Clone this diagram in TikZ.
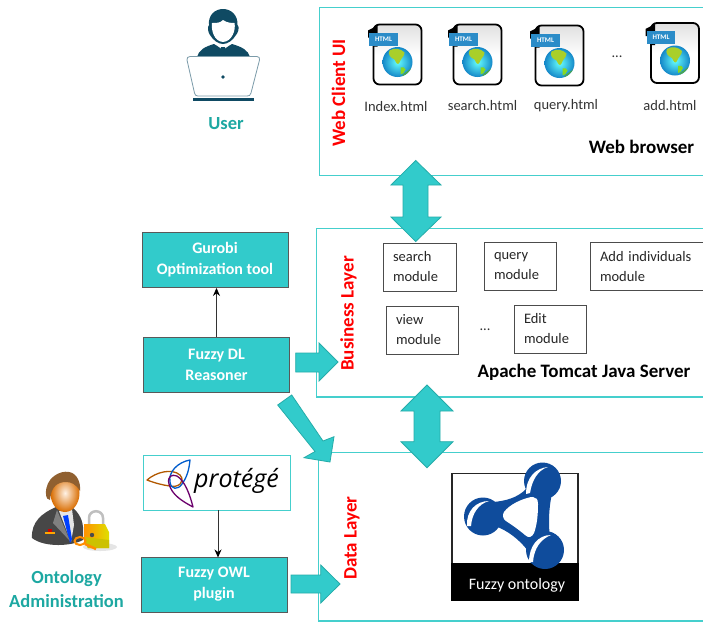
\documentclass[tikz,border=0pt]{standalone}
\usepackage{fontspec}
\setmainfont{Carlito}
\newfontfamily\protfont{Open Sans}
\usetikzlibrary{arrows.meta}
\definecolor{tealfill}{HTML}{32CBCB}
\definecolor{tealedge}{HTML}{25ACA9}
\definecolor{panelline}{HTML}{45CFCD}
\definecolor{labelteal}{HTML}{1DA8A2}
\definecolor{navy}{HTML}{0F4A63}
\definecolor{ontoblue}{HTML}{0F4C9C}
\definecolor{tabblue}{HTML}{2B8CC8}
\definecolor{globeblue}{HTML}{1487C8}
\definecolor{landgreen}{HTML}{A9CF2A}
\tikzset{
  x=1pt,y=-1pt,
  panel/.style={draw=panelline,line width=1.6pt,fill=white},
  tealbox/.style={draw=black!65,line width=0.9pt,fill=tealfill,text=white,font=\fontsize{16}{21}\selectfont\bfseries,align=center,minimum width=146pt,minimum height=55pt,inner sep=0pt},
  modbox/.style={draw=black!70,line width=0.7pt,fill=white,align=left,font=\fontsize{14.5}{20}\selectfont,text=black!85,minimum height=48pt,inner sep=0pt},
  blockarrow/.style={draw=tealedge,line width=0.8pt,fill=tealfill,line join=miter},
  thinarrow/.style={draw=black!80,line width=0.8pt,-{Stealth[length=8pt,width=7pt,black]}},
  filelabel/.style={font=\fontsize{14.5}{16}\selectfont,text=black!80,inner sep=0pt},
  layerlabel/.style={rotate=90,text=red,font=\fontsize{19}{20}\selectfont\bfseries,inner sep=0pt},
  actorlabel/.style={text=labelteal,font=\fontsize{18.5}{24}\selectfont\bfseries,align=center,inner sep=0pt},
  heading/.style={text=black,font=\fontsize{19}{20}\selectfont\bfseries,inner sep=0pt},
  htmldoc/.pic={
    \draw[black,line width=1.8pt,rounded corners=6pt,top color=black!12,bottom color=white,middle color=white]
      (-24,-30) rectangle (24,30);
    \fill[black] (-29.5,-24) -- (-20,-29) -- (-20,-8) -- (-24,-8) -- (-24,-17) -- (-29.5,-17) -- cycle;
    \fill[tabblue] (-28.5,-22) rectangle (0,-9);
    \node[text=white,font=\fontsize{7}{7}\selectfont\bfseries,inner sep=0pt] at (-14,-15.5) {HTML};
    \shade[inner color=cyan!60!white,outer color=globeblue] (0,7.5) circle (15);
    \fill[landgreen] (-8,-4) .. controls (-3,-7) and (3,-6) .. (7,-2) .. controls (7,2) and (3,4) .. (2,8) .. controls (0,11) and (-1,9) .. (-3,5) .. controls (-7,3) and (-10,0) .. (-8,-4) -- cycle;
    \fill[landgreen!80!green] (3,13) .. controls (5,12) and (8,13) .. (8,15) .. controls (7,18) and (5,20) .. (3,20) -- cycle;
    \fill[green!50!black!70] (5,20) .. controls (8,18) and (11,16) .. (13.5,14) .. controls (12,17) and (9,20) .. (5,21.5) -- cycle;
  },
}
\begin{document}
\begin{tikzpicture}
\useasboundingbox (0,0) rectangle (703,622);
\fill[white] (0,0) rectangle (703,622);

% panels
\draw[panel] (704,7.5) -- (319.5,7.5) -- (319.5,175.5) -- (704,175.5);
\draw[panel] (704,228.5) -- (316.5,228.5) -- (316.5,397) -- (704,397);
\draw[panel] (704,452.5) -- (318.5,452.5) -- (318.5,621) -- (704,621);

% user icon
\fill[navy] (197,57) .. controls (199,50) and (204,47) .. (214,44) -- (219,47) -- (223,50) -- (227,47) -- (232,44) .. controls (242,47) and (248,50) .. (250,57) -- cycle;
\fill[white] (218,46) -- (223,50) -- (228,46) -- (226,44) -- (220,44) -- cycle;
\fill[navy] (221,47) -- (225,47) -- (226,54) -- (223,57) -- (220,54) -- cycle;
\fill[navy] (223,9) .. controls (231,9) and (238,15) .. (237.5,25) .. controls (240,27) and (238,33) .. (236,35) .. controls (233,40) and (228,44) .. (223,44) .. controls (218,44) and (213,40) .. (210,35) .. controls (208,32) and (207,27) .. (209,25) .. controls (208,15) and (215,9) .. (223,9) -- cycle;
\fill[white] (223,20) .. controls (227,23) and (232,23) .. (234.5,23) .. controls (236,30) and (232,41.5) .. (223,42) .. controls (214,41.5) and (211,30) .. (212,23) .. controls (217,23) and (220,23) .. (223,20) -- cycle;
\draw[draw=navy!55,fill=white,line width=0.8pt,line join=round] (190,56.5) -- (257,56.5) .. controls (259,56.5) and (260,58) .. (259.5,60) -- (251,93) .. controls (250.5,95.5) and (249,96) .. (247,96) -- (198,96) .. controls (196,96) and (195,95) .. (194.5,93) -- (187,60) .. controls (186.5,58) and (188,56.5) .. (190,56.5) -- cycle;
\fill[navy] (192.5,97.5) rectangle (254,100.5);
\fill[navy] (223,77) circle (1.9);
\node[actorlabel] (user) at (226,124) {User};
\node[actorlabel] (admin) at (66.5,589) {Ontology\\Administration};

% html documents
\pic at (397.5,54.5) {htmldoc};
\pic at (477.5,54.5) {htmldoc};
\pic at (559.5,55.5) {htmldoc};
\pic at (675,53) {htmldoc};
\node[filelabel] (f1) at (396,107) {Index.html};
\node[filelabel] (f2) at (482.5,106) {search.html};
\node[filelabel] (f3) at (566,105.5) {query.html};
\node[filelabel] (f4) at (670,106) {add.html};
\node[filelabel] (fd) at (617,57) {...};
\node[heading] (wb) at (641.5,147) {Web browser};
\node[layerlabel] (l1) at (338.5,93) {Web Client UI};
\node[layerlabel] (l2) at (348.5,313.5) {Business Layer};
\node[layerlabel] (l3) at (352,538) {Data Layer};

% modules
\node[modbox,minimum width=73pt,text width=53pt] (m1) at (419.5,267) {search\\module};
\node[modbox,minimum width=72pt,text width=52pt] (m2) at (520,266.5) {query\\module};
\node[modbox,minimum width=114pt,text width=94pt] (m3) at (647,266.5) {Add individuals\\module};
\node[modbox,minimum width=72pt,text width=52pt] (m4) at (422,330) {view\\module};
\node[modbox,minimum width=72pt,text width=52pt] (m5) at (550,329) {Edit\\module};
\node[filelabel] (md) at (485,330) {...};
\node[heading] (tom) at (584,372.5) {Apache Tomcat Java Server};

% left boxes
\node[tealbox] (gurobi) at (215,260) {Gurobi\\Optimization tool};
\node[tealbox] (reasoner) at (216.5,365) {Fuzzy DL\\Reasoner};
\node[draw=panelline,line width=0.9pt,fill=white,minimum width=147pt,minimum height=55pt,inner sep=0pt] (protege) at (216.5,482.5) {};
\node[tealbox] (plugin) at (214,584.5) {Fuzzy OWL\\plugin};
\draw[thinarrow] (reasoner.north) -- (reasoner.north |- gurobi.south);
\draw[thinarrow] (protege.south -| plugin.north) ++(4,0) -- ++(0,47);

% protege logo
\node[inner sep=0pt,font=\protfont\itshape\fontsize{25}{26}\selectfont] (ptext) at (236.5,481) {protégé};
\draw[draw=orange!70!black,line width=1.3pt,line join=round] (147,480) .. controls (156,472) and (172,468) .. (180,475) .. controls (186,482) and (178,488) .. (170,486) .. controls (162,485) and (155,483) .. (147,480) -- cycle;
\draw[draw=blue!55!cyan!80!black,line width=1.3pt,line join=round] (190,460) .. controls (178,462) and (168,472) .. (170,482) .. controls (171,490) and (178,490) .. (182,484) .. controls (187,477) and (189,470) .. (190,460) -- cycle;
\draw[draw=violet!85!black,line width=1.3pt,line join=round] (193,507) .. controls (182,501) and (172,495) .. (169,484) .. controls (167,476) and (172,474) .. (177,476) .. controls (185,481) and (190,495) .. (193,507) -- cycle;

% admin icon
\fill[black!10] (100,547) ellipse (17 and 4);
\fill[black!72] (32,538) .. controls (31,522) and (42,513) .. (56,507) -- (72,507) .. controls (78,512) and (84,520) .. (83,532) -- (83,540) .. controls (72,546) and (45,548) .. (32,538) -- cycle;
\fill[white!90!black] (59,511) -- (72,509) -- (74,525) -- (71,542) -- cycle;
\fill[blue!75!cyan] (63,516) -- (68,515) -- (72,539) -- (70,543) -- cycle;
\fill[black!50] (57,510) -- (70,541) -- (53,523) -- cycle;
\fill[red!80!black] (48,529) rectangle (52,532);
\fill[orange!70!yellow] (45,532) rectangle (55,534);
\shade[inner color=orange!10,outer color=orange!85!black] (65,493) ellipse (14.5 and 19);
\fill[brown!75!black] (46,494) .. controls (45,478) and (60,470) .. (69,472) .. controls (77,473) and (81,483) .. (80,491) .. controls (76,484) and (71,482) .. (66,482) .. controls (58,482) and (51,486) .. (50,500) .. controls (48,500) and (46,498) .. (46,494) -- cycle;
\draw[black!25,line width=2.5pt] (89,524) -- (89,518) .. controls (89,509) and (103,509) .. (103,518) -- (103,530);
\shade[left color=orange!85!yellow,right color=yellow!75!olive] (84,524) -- (105,524) -- (109,532) -- (109,548) -- (88,548) -- (84,540) -- cycle;
\fill[yellow!55!olive] (84,537) -- (109,540) -- (109,548) -- (88,548) -- (84,541) -- cycle;
\fill[black!70] (92,535) circle (2.2);
\draw[orange!90!yellow,line width=2pt] (80,541) ellipse (5.5 and 4);
\draw[orange!90!yellow,line width=2.4pt] (85,544) -- (96,549);

% ontology icon
\node[draw=black!85,line width=1.5pt,fill=white,minimum width=126pt,minimum height=127pt,inner sep=0pt] (ontobox) at (515,537) {};
\fill[black] (ontobox.west |- 0,563) rectangle (ontobox.south east);
\node[text=white,font=\fontsize{16}{18}\selectfont,inner sep=0pt] (ontolabel) at (517,585) {Fuzzy ontology};
\fill[ontoblue] (527,488) .. controls (518,498) and (505,501) .. (493,502) -- (495,526) .. controls (507,530) and (520,540) .. (528,551) -- (550,537) .. controls (548,522) and (549,505) .. (553,489) -- cycle;
\fill[white] (504,512) .. controls (510,504) and (522,499) .. (531,497) .. controls (536,496) and (538,499) .. (538,504) .. controls (538,515) and (537,525) .. (534,533) .. controls (532,538) and (528,538) .. (525,535) .. controls (518,529) and (512,525) .. (506,521) .. controls (503,519) and (502,515) .. (504,512) -- cycle;
\fill[ontoblue] (542.5,481) circle (18.5);
\fill[ontoblue] (483,516.5) circle (19);
\fill[ontoblue] (545,550) circle (19);
\fill[white] (526,494) .. controls (526,477) and (536,468) .. (548,467) .. controls (538,470) and (532,480) .. (530,493) -- cycle;
\fill[white] (467,526) .. controls (466,511) and (476,501) .. (489,501) .. controls (478,504) and (472,514) .. (471,526) -- cycle;
\fill[white] (529,562) .. controls (529,546) and (538,535) .. (551,535) .. controls (541,539) and (534,548) .. (533,562) -- cycle;

% block arrows
\draw[blockarrow] (415.7,160.5) -- (441,185) -- (428,185) -- (428,217) -- (441,217) -- (415.7,241.5) -- (391,217) -- (403,217) -- (403,185) -- (391,185) -- cycle;
\draw[blockarrow] (427,385) -- (453,411) -- (440,411) -- (440,441.7) -- (453,441.7) -- (427,467.7) -- (401,441.7) -- (414,441.7) -- (414,411) -- (401,411) -- cycle;
\draw[blockarrow] (295.7,353) -- (319,353) -- (319,343) -- (338,362) -- (319,381) -- (319,372) -- (295.7,372) -- cycle;
\draw[blockarrow] (291,575) -- (320.7,575) -- (320.7,565) -- (340,584) -- (320.7,603) -- (320.7,593) -- (291,593) -- cycle;
\draw[blockarrow] (277.7,405) -- (291.7,395) -- (323,441) -- (334,436.7) -- (330,462) -- (304,457.7) -- (315,451.5) -- cycle;
\end{tikzpicture}
\end{document}
